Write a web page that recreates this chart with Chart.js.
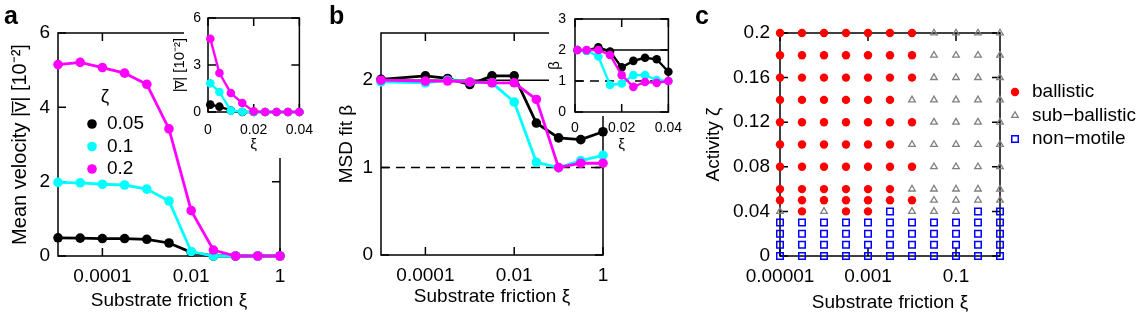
<!DOCTYPE html>
<html>
<head>
<meta charset="utf-8">
<script src="https://cdn.jsdelivr.net/npm/chart.js@4.4.1/dist/chart.umd.min.js"></script>
<style>
  body { margin: 0; width: 1145px; height: 325px; background: #fff; position: relative; overflow: hidden; }
  canvas { position: absolute; top: 0; }
  .lbl { position: absolute; top: 0; font: bold 25px 'Liberation Sans', Arial, sans-serif; line-height: 30px; }
</style>
</head>
<body>
<canvas id="cA" width="320" height="325" style="left:0px"></canvas>
<canvas id="cAi" width="155" height="160" style="left:168px"></canvas>
<canvas id="cB" width="300" height="325" style="left:325px"></canvas>
<canvas id="cBi" width="150" height="160" style="left:540px"></canvas>
<canvas id="cC" width="445" height="325" style="left:700px"></canvas>
<div class="lbl" style="left:4px">a</div>
<div class="lbl" style="left:329px">b</div>
<div class="lbl" style="left:695px">c</div>
<script>
// values
var xiMain = [1e-5, 3.16e-5, 1e-4, 3.16e-4, 1e-3, 3.16e-3, 1e-2, 3.16e-2, 0.1, 0.316, 1];
var velZeta005 = [0.49, 0.48, 0.47, 0.47, 0.45, 0.35, 0.10, 0, 0, 0, 0];
var velZeta01 = [1.98, 1.97, 1.93, 1.91, 1.80, 1.48, 0.12, 0, 0, 0, 0];
var velZeta02 = [5.15, 5.21, 5.07, 4.92, 4.62, 3.42, 1.22, 0.16, 0, 0, 0];

var xiInset = [0.001, 0.005, 0.01, 0.015, 0.02, 0.025, 0.03, 0.035, 0.04];
var velInset005 = [0.47, 0.34, 0.10, 0, 0, 0, 0, 0, 0];
var velInset01 = [1.83, 1.28, 0.09, 0.02, 0, 0, 0, 0, 0];
var velInset02 = [4.68, 2.49, 1.21, 0.57, 0.04, 0, 0, 0, 0];

var xiBeta = [1e-5, 1e-4, 3.16e-4, 1e-3, 3.16e-3, 1e-2, 3.16e-2, 0.1, 0.316, 1];
var betaZeta005 = [2.01, 2.05, 2.02, 1.95, 2.05, 2.05, 1.51, 1.34, 1.32, 1.41];
var betaZeta01 = [1.98, 1.97, 2.00, 1.98, 1.97, 1.75, 1.06, 1.00, 1.08, 1.14];
var betaZeta02 = [2.00, 1.99, 1.99, 1.98, 1.97, 1.97, 1.78, 1.00, 1.05, 1.05];
var betaInset005 = [2.00, 1.98, 2.09, 1.95, 1.44, 1.65, 1.75, 1.70, 1.30];
var betaInset01 = [2.00, 1.98, 1.79, 0.87, 0.92, 1.19, 1.19, 1.03, 1.00];
var betaInset02 = [2.00, 2.00, 2.00, 1.84, 1.19, 0.81, 0.97, 0.94, 1.00];
var betaRef = [2, 1]; // solid = ballistic, dashed = diffusive

var zetaLabels = ['0.05', '0.1', '0.2'];
var zetaColors = ['#000000', '#00FFFF', '#FF00FF'];

// phase diagram: B = ballistic, S = sub-ballistic, N = non-motile
var xiPhase = [1e-5, 3.16e-5, 1e-4, 3.16e-4, 1e-3, 3.16e-3, 1e-2, 3.16e-2, 0.1, 0.316, 1];
var zetaPhase = [0.2, 0.18, 0.16, 0.14, 0.12, 0.1, 0.08, 0.06, 0.05, 0.04, 0.03, 0.02, 0.01, 0];
var phaseGrid = [
	'BBBBBBBSSSS',
	'BBBBBBBSSSS',
	'BBBBBBBSSSS',
	'BBBBBBSSSSS',
	'BBBBBBBSSSS',
	'BBBBBBSSSSS',
	'BBBBBBBSSSS',
	'BBBBBBSSSSS',
	'BBBBBBBSSSS',
	'SBSBBNSSSNN',
	'NNNNNNNNNNN',
	'NNNNNNNNNNN',
	'NNNNNNNNNNN',
	'NNNNNNNNNNN'
];
var phaseNames = { B: 'ballistic', S: 'sub\u2212ballistic', N: 'non\u2212motile' };

// tick values / labels
var xiTickVals = [1e-4, 1e-2, 1];
var xiTickText = ['0.0001', '0.01', '1'];
var velTickVals = [0, 2, 4, 6];
var betaTickVals = [0, 1, 2];
var insetXiTickVals = [0, 0.02, 0.04];
var insetXiTickText = ['0', '0.02', '0.04'];
var insetVelTickVals = [0, 3, 6];
var insetBetaTickVals = [0, 1, 2, 3];
var phaseXiTickVals = [1e-5, 1e-3, 1e-1];
var phaseXiTickText = ['0.00001', '0.001', '0.1'];
var phaseZetaTickVals = [0, 0.04, 0.08, 0.12, 0.16, 0.2];
var phaseZetaTickText = ['0', '0.04', '0.08', '0.12', '0.16', '0.2'];

var FONT = "'Liberation Sans', Arial, Helvetica, sans-serif";
Chart.defaults.font.family = FONT;
Chart.defaults.font.size = 19;
Chart.defaults.color = '#000';

// box around the plot area + inward ticks on all four sides
var framePlugin = {
	id: 'frame',
	beforeDraw: function(chart, args, o) {
		if (o.fill) {
			chart.ctx.save();
			chart.ctx.fillStyle = '#fff';
			chart.ctx.fillRect(o.fill[0], o.fill[1], o.fill[2], o.fill[3]);
			chart.ctx.restore();
		}
	},
	beforeDatasetsDraw: function(chart, args, o) {
		var ctx = chart.ctx, a = chart.chartArea, x = chart.scales.x, y = chart.scales.y;
		var len = o.len || 8;
		ctx.save();
		ctx.strokeStyle = '#000';
		ctx.lineWidth = 1.5;
		ctx.strokeRect(a.left, a.top, a.right - a.left, a.bottom - a.top);
		ctx.beginPath();
		x.ticks.forEach(function(t) {
			var px = x.getPixelForValue(t.value);
			ctx.moveTo(px, a.bottom); ctx.lineTo(px, a.bottom - len);
			ctx.moveTo(px, a.top); ctx.lineTo(px, a.top + len);
		});
		y.ticks.forEach(function(t) {
			var py = y.getPixelForValue(t.value);
			ctx.moveTo(a.left, py); ctx.lineTo(a.left + len, py);
			ctx.moveTo(a.right, py); ctx.lineTo(a.right - len, py);
		});
		ctx.stroke();
		ctx.restore();
	}
};

function drawMarker(ctx, ds, x, y) {
	ctx.save();
	ctx.fillStyle = ds.pointBackgroundColor;
	ctx.strokeStyle = ds.pointBorderColor;
	ctx.lineWidth = ds.pointBorderWidth;
	Chart.helpers.drawPoint(ctx, {
		pointStyle: ds.pointStyle || 'circle', rotation: 0,
		radius: ds.pointRadius, borderWidth: ds.pointBorderWidth
	}, x, y);
	ctx.restore();
}

// small legends drawn by hand at fixed spots
var keyPlugin = {
	id: 'key',
	afterDraw: function(chart, args, o) {
		var ctx = chart.ctx;
		var items = chart.data.datasets.filter(function(d) { return d.keyRank !== undefined; });
		items.sort(function(p, q) { return p.keyRank - q.keyRank; });
		ctx.save();
		ctx.font = '19px ' + FONT;
		ctx.fillStyle = '#000';
		ctx.textBaseline = 'middle';
		if (o.title) {
			ctx.textAlign = 'center';
			ctx.fillText(o.title, o.titleX, o.titleY);
		}
		ctx.textAlign = 'left';
		items.forEach(function(d, i) {
			var yy = o.y + i * o.dy;
			drawMarker(ctx, d, o.x, yy);
			ctx.fillStyle = '#000';
			ctx.fillText(d.label, o.x + o.gap, yy);
		});
		ctx.restore();
	}
};

function axis(opt) {
	return {
		type: opt.type || 'linear',
		min: opt.min,
		max: opt.max,
		grid: { display: false, drawTicks: false },
		border: { display: false },
		ticks: {
			padding: opt.pad, maxRotation: 0, minRotation: 0, autoSkip: false,
			font: { size: opt.size || 19 },
			callback: function(v, i) { return opt.text ? opt.text[i] : String(opt.vals[i]); }
		},
		title: {
			display: !!opt.title, text: opt.title,
			font: { size: opt.tsize || 19 },
			padding: opt.tpad || 0
		},
		afterBuildTicks: function(s) { s.ticks = opt.vals.map(function(v) { return { value: v }; }); },
		afterFit: function(s) {
			if (opt.w !== undefined) s.width = opt.w;
			if (opt.h !== undefined) s.height = opt.h;
		}
	};
}

function series(xs, ys, i, order, lw, r, rank) {
	return {
		label: zetaLabels[i],
		data: xs.map(function(x, k) { return { x: x, y: ys[k] }; }),
		borderColor: zetaColors[i],
		backgroundColor: zetaColors[i],
		pointBackgroundColor: zetaColors[i],
		pointBorderColor: zetaColors[i],
		pointBorderWidth: 0,
		borderWidth: lw,
		pointRadius: r,
		tension: 0,
		clip: false,
		order: order,
		keyRank: rank
	};
}

function refLine(xs, val, dashed) {
	return {
		data: [{ x: xs[0], y: val }, { x: xs[xs.length - 1], y: val }],
		borderColor: '#000', borderWidth: 1.5,
		borderDash: dashed ? [9, 6] : [],
		pointRadius: 0, clip: false, order: 10
	};
}

var basePlugins = { legend: { display: false }, tooltip: { enabled: false } };

// ---- panel a ----
new Chart(document.getElementById('cA'), {
	type: 'line',
	data: { datasets: [
		series(xiMain, velZeta02, 2, 1, 2.8, 4.8, 2),
		series(xiMain, velZeta01, 1, 2, 2.8, 4.8, 1),
		series(xiMain, velZeta005, 0, 3, 2.8, 4.8, 0)
	] },
	options: {
		responsive: false, animation: false, events: [],
		layout: { padding: { left: 0, right: 40, top: 33, bottom: 0 } },
		plugins: Object.assign({}, basePlugins, {
			frame: { len: 8 },
			key: { title: '\u03b6', titleX: 105, titleY: 97, x: 92, y: 124, dy: 22.5, gap: 15 }
		}),
		scales: {
			x: axis({ type: 'logarithmic', min: 1e-5, max: 1, vals: xiTickVals, text: xiTickText, pad: 9,
				title: 'Substrate friction \u03be', tpad: { top: 0, bottom: 13 }, h: 69 }),
			y: axis({ min: 0, max: 6, vals: velTickVals, pad: 8,
				title: 'Mean velocity |v\u0305| [10\u207b\u00b2]', tsize: 20, tpad: { top: 8, bottom: 0 }, w: 58 })
		}
	},
	plugins: [framePlugin, keyPlugin]
});

// ---- panel a inset ----
new Chart(document.getElementById('cAi'), {
	type: 'line',
	data: { datasets: [
		series(xiInset, velInset02, 2, 1, 2.4, 4.3),
		series(xiInset, velInset01, 1, 2, 2.4, 4.3),
		series(xiInset, velInset005, 0, 3, 2.4, 4.3)
	] },
	options: {
		responsive: false, animation: false, events: [],
		layout: { padding: { left: 0, right: 19, top: 18, bottom: 0 } },
		plugins: Object.assign({}, basePlugins, { frame: { len: 8, fill: [16, 0, 139, 158] } }),
		scales: {
			x: axis({ min: 0, max: 0.04, vals: insetXiTickVals, text: insetXiTickText, pad: 10, size: 14,
				title: '\u03be', tsize: 15, tpad: { top: 0, bottom: 6 }, h: 48 }),
			y: axis({ min: 0, max: 6, vals: insetVelTickVals, pad: 7, size: 14,
				title: '|v\u0305| [10\u207b\u00b2]', tsize: 15, tpad: { top: 3, bottom: 0 }, w: 40 })
		}
	},
	plugins: [framePlugin]
});

// ---- panel b ----
new Chart(document.getElementById('cB'), {
	type: 'line',
	data: { datasets: [
		series(xiBeta, betaZeta02, 2, 1, 2.8, 4.8),
		series(xiBeta, betaZeta01, 1, 2, 2.8, 4.8),
		series(xiBeta, betaZeta005, 0, 3, 2.8, 4.8),
		refLine(xiMain, betaRef[0], false),
		refLine(xiMain, betaRef[1], true)
	] },
	options: {
		responsive: false, animation: false, events: [],
		layout: { padding: { left: 0, right: 22, top: 33, bottom: 0 } },
		plugins: Object.assign({}, basePlugins, { frame: { len: 8 } }),
		scales: {
			x: axis({ type: 'logarithmic', min: 1e-5, max: 1, vals: xiTickVals, text: xiTickText, pad: 9,
				title: 'Substrate friction \u03be', tpad: { top: 0, bottom: 17 }, h: 70 }),
			y: axis({ min: 0, max: 2.54, vals: betaTickVals, pad: 8,
				title: 'MSD fit \u03b2', tpad: { top: 10, bottom: 0 }, w: 56 })
		}
	},
	plugins: [framePlugin]
});

// ---- panel b inset ----
new Chart(document.getElementById('cBi'), {
	type: 'line',
	data: { datasets: [
		series(xiInset, betaInset02, 2, 1, 2.4, 4.3),
		series(xiInset, betaInset01, 1, 2, 2.4, 4.3),
		series(xiInset, betaInset005, 0, 3, 2.4, 4.3),
		refLine(insetXiTickVals, betaRef[0], false),
		refLine(insetXiTickVals, betaRef[1], true)
	] },
	options: {
		responsive: false, animation: false, events: [],
		layout: { padding: { left: 0, right: 19, top: 19, bottom: 0 } },
		plugins: Object.assign({}, basePlugins, { frame: { len: 8, fill: [9, 0, 141, 116] } }),
		scales: {
			x: axis({ min: 0, max: 0.04, vals: insetXiTickVals, text: insetXiTickText, pad: 8, size: 14,
				title: '\u03be', tsize: 15, tpad: { top: 0, bottom: 6 }, h: 48 }),
			y: axis({ min: 0, max: 3, vals: insetBetaTickVals, pad: 9, size: 14,
				title: '\u03b2', tsize: 15, tpad: { top: 6, bottom: 0 }, w: 35 })
		}
	},
	plugins: [framePlugin]
});

// ---- panel c ----
function phasePoints(code) {
	var pts = [];
	zetaPhase.forEach(function(z, r) {
		xiPhase.forEach(function(xi, c) {
			if (phaseGrid[r].charAt(c) === code) pts.push({ x: xi, y: z });
		});
	});
	return pts;
}
new Chart(document.getElementById('cC'), {
	type: 'scatter',
	data: { datasets: [
		{ label: phaseNames.B, data: phasePoints('B'), pointStyle: 'circle', pointRadius: 4.2,
			pointBackgroundColor: '#FF0000', pointBorderColor: '#FF0000', pointBorderWidth: 0, clip: false, keyRank: 0 },
		{ label: phaseNames.S, data: phasePoints('S'), pointStyle: 'triangle', pointRadius: 3.8,
			pointBackgroundColor: 'rgba(0,0,0,0)', pointBorderColor: '#808080', pointBorderWidth: 1.3, clip: false, keyRank: 1 },
		{ label: phaseNames.N, data: phasePoints('N'), pointStyle: 'rect', pointRadius: 4.6,
			pointBackgroundColor: 'rgba(0,0,0,0)', pointBorderColor: '#0000FF', pointBorderWidth: 1.5, clip: false, keyRank: 2 }
	] },
	options: {
		responsive: false, animation: false, events: [],
		layout: { padding: { left: 0, right: 145, top: 33, bottom: 0 } },
		plugins: Object.assign({}, basePlugins, {
			frame: { len: 8 },
			key: { x: 315, y: 92, dy: 23.5, gap: 17 }
		}),
		scales: {
			x: axis({ type: 'logarithmic', min: 1e-5, max: 1, vals: phaseXiTickVals, text: phaseXiTickText, pad: 9,
				title: 'Substrate friction \u03be', tpad: { top: 0, bottom: 11 }, h: 69 }),
			y: axis({ min: 0, max: 0.2, vals: phaseZetaTickVals, text: phaseZetaTickText, pad: 10,
				title: 'Activity \u03b6', tpad: { top: 2, bottom: 0 }, w: 80 })
		}
	},
	plugins: [framePlugin, keyPlugin]
});
</script>
</body>
</html>
